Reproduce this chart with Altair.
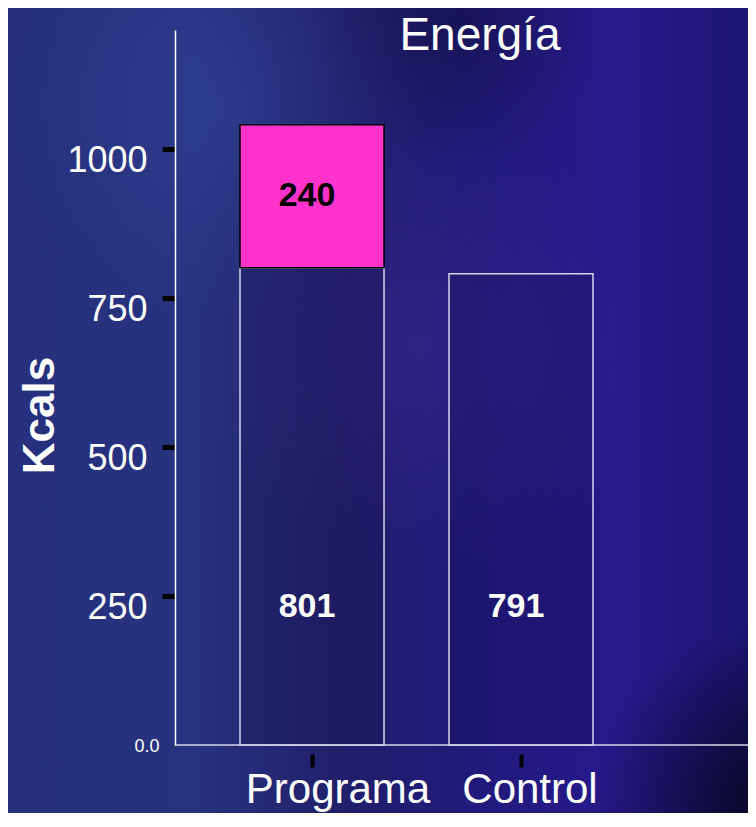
import altair as alt
import pandas as pd

# ---- data ----
categories = ["Programa", "Programa", "Control"]
segments = ["base", "extra", "base"]
values = [801, 240, 791]
y_ticks = [0, 250, 500, 750, 1000]
title_text = "Energía"
y_title = "Kcals"

df = pd.DataFrame({"cat": categories, "seg": segments, "value": values})
df["end"] = df.groupby("cat")["value"].cumsum()
df["start"] = df["end"] - df["value"]

W, H = 573, 715
PAD = {"left": 167, "top": 22, "right": 0, "bottom": 68}
FONT = "Liberation Sans"

x_scale = alt.Scale(domain=["Programa", "Control"], paddingInner=0.311,
                    paddingOuter=0.5263, align=0.2955)
y_scale = alt.Scale(domain=[0, 1200], nice=False)

one = alt.Data(values=[{"k": 1}])

def bg_rect(fill):
    return alt.Chart(one).mark_rect(fill=fill, clip=False).encode(
        x=alt.value(-PAD["left"]), x2=alt.value(W + PAD["right"]),
        y=alt.value(-PAD["top"]), y2=alt.value(H + PAD["bottom"]))

def radial(cx, cy, r, rgb, a):
    return alt.RadialGradient(
        gradient="radial", x1=cx, y1=cy, r1=0, x2=cx, y2=cy, r2=r,
        stops=[alt.GradientStop(color=f"rgba({rgb},{a})", offset=0),
               alt.GradientStop(color=f"rgba({rgb},0)", offset=1)])

base_bg = bg_rect(alt.LinearGradient(
    gradient="linear", x1=0, y1=0, x2=1, y2=0,
    stops=[alt.GradientStop(color="#26307c", offset=0),
           alt.GradientStop(color="#28337f", offset=0.25),
           alt.GradientStop(color="#211f6a", offset=0.45),
           alt.GradientStop(color="#201a7a", offset=0.62),
           alt.GradientStop(color="#28198c", offset=0.82),
           alt.GradientStop(color="#1d1674", offset=1)]))
glow_blue = bg_rect(radial(0.3, 0.12, 0.26, "52,72,160", 0.45))
dark_top = bg_rect(radial(0.6, 0.02, 0.18, "14,12,48", 0.45))
glow_purple = bg_rect(radial(0.56, 0.42, 0.28, "72,48,158", 0.35))
dark_corner = bg_rect(radial(1.0, 1.0, 0.24, "4,4,22", 0.9))

base = alt.Chart(df)

bars = base.mark_bar(strokeWidth=1.5).encode(
    x=alt.X("cat:N", scale=x_scale, sort=["Programa", "Control"],
            axis=alt.Axis(
                title=None, labelAngle=0, labelFontSize=42, labelFont=FONT,
                labelColor="white", labelPadding=2, labelBaseline="top",
                labelLimit=400,
                labelOffset=alt.condition("datum.value == 'Programa'",
                                          alt.value(26), alt.value(9)),
                domain=False, tickColor="black", tickWidth=4, tickSize=13,
                offset=9, grid=False, zindex=2)),
    y=alt.Y("start:Q", scale=y_scale,
            axis=alt.Axis(
                values=y_ticks, format="d",
                labelExpr="datum.value == 0 ? '0.0' : datum.label",
                title=y_title, titleFontSize=44, titleFontWeight="bold",
                titleFont=FONT, titleColor="white", titleX=-135, titleY=385,
                titleAngle=270, titleAlign="center", titleBaseline="middle",
                labelFont=FONT, labelColor="white", labelBaseline="middle",
                labelFontSize=alt.condition("datum.value == 0",
                                            alt.value(18), alt.value(36)),
                labelPadding=alt.condition("datum.value == 0",
                                           alt.value(3), alt.value(15)),
                labelOffset=alt.condition("datum.value == 0",
                                          alt.value(1), alt.value(11)),
                domainColor="white", domainWidth=1.5,
                tickColor=alt.condition("datum.value == 0",
                                        alt.value("transparent"),
                                        alt.value("black")),
                tickWidth=5, tickSize=13, grid=False, zindex=2)),
    y2="end:Q",
    fill=alt.Fill("seg:N", scale=alt.Scale(
        domain=["base", "extra"],
        range=["rgba(14,12,58,0.2)", "#FF33CC"]), legend=None),
    stroke=alt.Stroke("seg:N", scale=alt.Scale(
        domain=["base", "extra"], range=["#d6d6ea", "#000000"]), legend=None),
)

labels = base.transform_calculate(
    ly="datum.seg == 'base' ? 232 : (datum.start + datum.end) / 2"
).mark_text(font=FONT, fontSize=34, fontWeight="bold", dx=-5,
            baseline="middle").encode(
    x=alt.X("cat:N", scale=x_scale, sort=["Programa", "Control"]),
    y=alt.Y("ly:Q", scale=y_scale),
    text=alt.Text("value:Q"),
    color=alt.Color("seg:N", scale=alt.Scale(
        domain=["base", "extra"], range=["white", "black"]), legend=None),
)

xline = alt.Chart(one).mark_rule(color="#d6d6ea", strokeWidth=1.5).encode(
    y=alt.datum(0, scale=y_scale))

title = alt.Chart(alt.Data(values=[{"t": title_text}])).mark_text(
    font=FONT, fontSize=46, color="white", align="center",
    baseline="alphabetic").encode(
    text="t:N", x=alt.value(305), y=alt.value(20))

chart = alt.layer(
    base_bg, glow_blue, dark_top, glow_purple, dark_corner,
    xline, bars, labels, title
).properties(
    width=W, height=H, padding=PAD, autosize="none", background="#221e72"
).configure_view(strokeWidth=0)

chart.save("out.html", embed_options={"renderer": "svg", "actions": False})
